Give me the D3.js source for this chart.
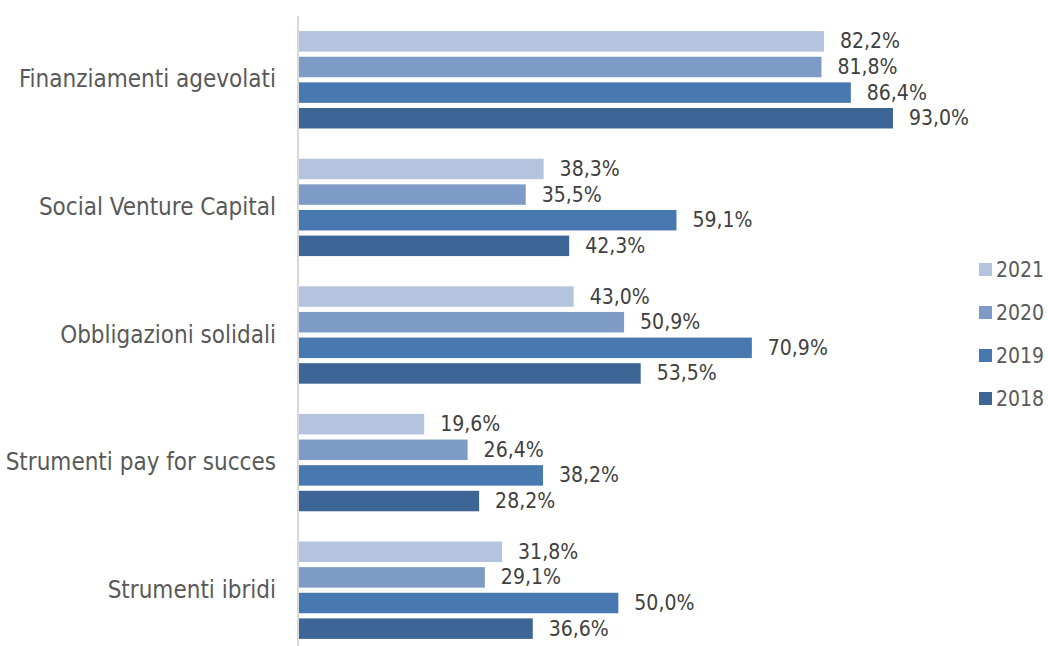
<!DOCTYPE html>
<html><head><meta charset="utf-8">
<script src="https://cdn.jsdelivr.net/npm/d3@7"></script>
<style>body{margin:0;background:#fff}svg{display:block}</style>
</head><body>
<svg id="c" width="1048" height="646"></svg>
<script>
const categories = ["Finanziamenti agevolati","Social Venture Capital","Obbligazioni solidali","Strumenti pay for succes","Strumenti ibridi"];
const years = ["2021","2020","2019","2018"];
const v2021 = [82.2, 38.3, 43.0, 19.6, 31.8];
const v2020 = [81.8, 35.5, 50.9, 26.4, 29.1];
const v2019 = [86.4, 59.1, 70.9, 38.2, 50.0];
const v2018 = [93.0, 42.3, 53.5, 28.2, 36.6];
const colors = ["#b4c4de", "#7e9bc7", "#4878b0", "#3d6596"];
const series = [v2021, v2020, v2019, v2018];

const svg = d3.select("#c");
const font = "'DejaVu Sans Condensed', 'DejaVu Sans', sans-serif";
const x = d3.scaleLinear().domain([0, 100]).range([299, 937.7]);
const y0 = d3.scaleBand().domain(categories).range([16, 654]);
const y1 = d3.scaleBand().domain(years).range([0, y0.bandwidth()]).paddingInner(0.2).paddingOuter(0.59);
const fmt = v => d3.format(".1f")(v).replace(".", ",") + "%";

const g = svg.selectAll("g.cat").data(categories).enter().append("g")
  .attr("transform", d => `translate(0,${y0(d)})`);

years.forEach((yr, si) => {
  g.append("rect")
    .attr("x", x(0))
    .attr("y", y1(yr))
    .attr("width", (d, i) => x(series[si][i]) - x(0))
    .attr("height", y1.bandwidth())
    .attr("fill", colors[si]);
  g.append("text")
    .attr("x", (d, i) => x(series[si][i]) + 16)
    .attr("y", y1(yr) + y1.bandwidth() / 2 + 1)
    .attr("dominant-baseline", "middle")
    .attr("font-family", font).attr("font-size", 21).attr("fill", "#404040")
    .text((d, i) => fmt(series[si][i]));
});

// axis
const yAxis = d3.axisLeft(y0).tickSize(0).tickPadding(22);
const ax = svg.append("g").attr("transform", `translate(${x(0)-1},0)`).call(yAxis);
ax.select(".domain").attr("stroke", "#d9d9d9").attr("stroke-width", 2).attr("d", "M0,16V646");
ax.selectAll("text").attr("font-family", font).attr("font-size", 24).attr("fill", "#595959");

// legend
const lg = svg.append("g").selectAll("g").data(years).enter().append("g")
  .attr("transform", (d, i) => `translate(979,${263 + i * 43})`);
lg.append("rect").attr("width", 13).attr("height", 13).attr("fill", (d, i) => colors[i]);
lg.append("text").attr("x", 17).attr("y", 7.5).attr("dominant-baseline", "middle")
  .attr("font-family", font).attr("font-size", 21).attr("fill", "#595959").text(d => d);
</script>
</body></html>
